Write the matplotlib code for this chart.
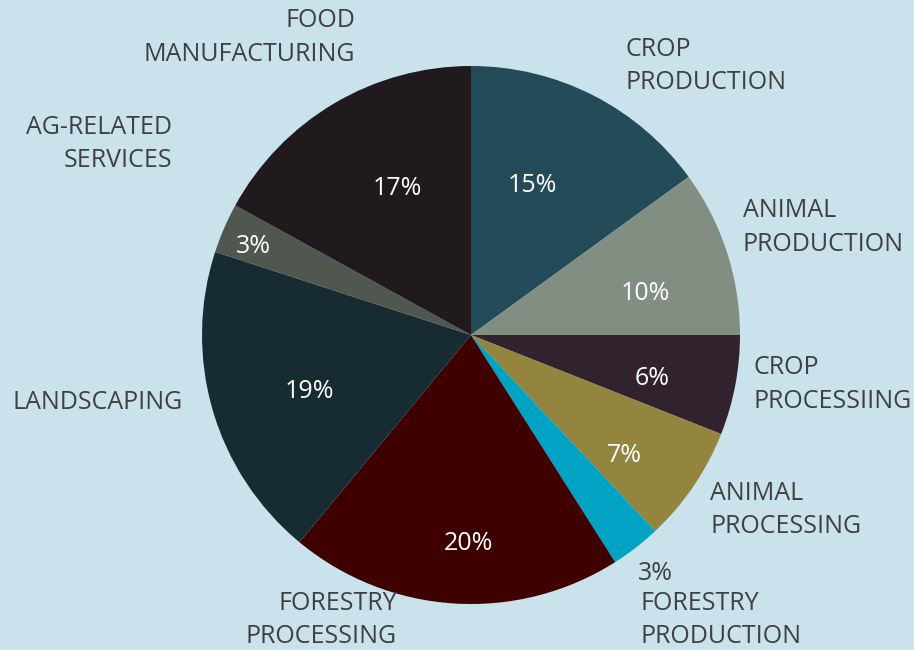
import numpy as np
import matplotlib.pyplot as plt

# sector share of the ag / forestry economy, clockwise from 12 o'clock
sectors = ["CROP\nPRODUCTION", "ANIMAL\nPRODUCTION", "CROP\nPROCESSIING",
           "ANIMAL\nPROCESSING", "FORESTRY\nPRODUCTION", "FORESTRY\nPROCESSING",
           "LANDSCAPING", "AG-RELATED\nSERVICES", "FOOD\nMANUFACTURING"]
shares = [15, 10, 6, 7, 3, 20, 19, 3, 17]
colors = ["#244B5A", "#838E83", "#30232D", "#93843E", "#00A3C4",
          "#3F0000", "#172B33", "#50574E", "#201A1E"]

bg = "#C9E2EB"
txt = "#404040"
plt.rcParams['font.family'] = ['Open Sans', 'DejaVu Sans']

fig = plt.figure(figsize=(9.14, 6.5), dpi=100, facecolor=bg)
cx, cy, r = 471, 335, 269
ax = fig.add_axes([(cx - r) / 914, (650 - cy - r) / 650, 2 * r / 914, 2 * r / 650])
ax.set_facecolor(bg)

wedges, _ = ax.pie(shares, colors=colors, startangle=90, counterclock=False,
                   radius=1.0, wedgeprops=dict(linewidth=0))
ax.set_xlim(-1, 1)
ax.set_ylim(-1, 1)
ax.set_aspect('equal')
ax.axis('off')

# percentage label spots (in radii from the centre); outside ones are grey
pct_pos = [(0.230, 0.569), (0.647, 0.167), (0.673, -0.149), (0.572, -0.435),
           (0.684, -0.874), (-0.011, -0.762), (-0.599, -0.197), (-0.810, 0.342),
           (-0.275, 0.558)]
for v, (x, y) in zip(shares, pct_pos):
    c = txt if np.hypot(x, y) > 1 else "white"
    ax.text(x, y - 0.012, f"{v}%", ha='center', va='center',
            fontsize=18, color=c, clip_on=False)

# category labels placed around the pie (x, y in radii, alignment)
lab_pos = [(0.573, 1.0, 'left'), (1.01, 0.40, 'left'), (1.05, -0.185, 'left'),
           (0.89, -0.65, 'left'), (0.63, -1.06, 'left'), (-0.275, -1.06, 'right'),
           (-1.07, -0.25, 'right'), (-1.11, 0.71, 'right'), (-0.43, 1.105, 'right')]
for name, (x, y, ha) in zip(sectors, lab_pos):
    ax.text(x, y, name, ha=ha, va='center', fontsize=18, color=txt,
            multialignment=ha, linespacing=1.45, clip_on=False)

fig.savefig("out.png", dpi=100, facecolor=bg)
